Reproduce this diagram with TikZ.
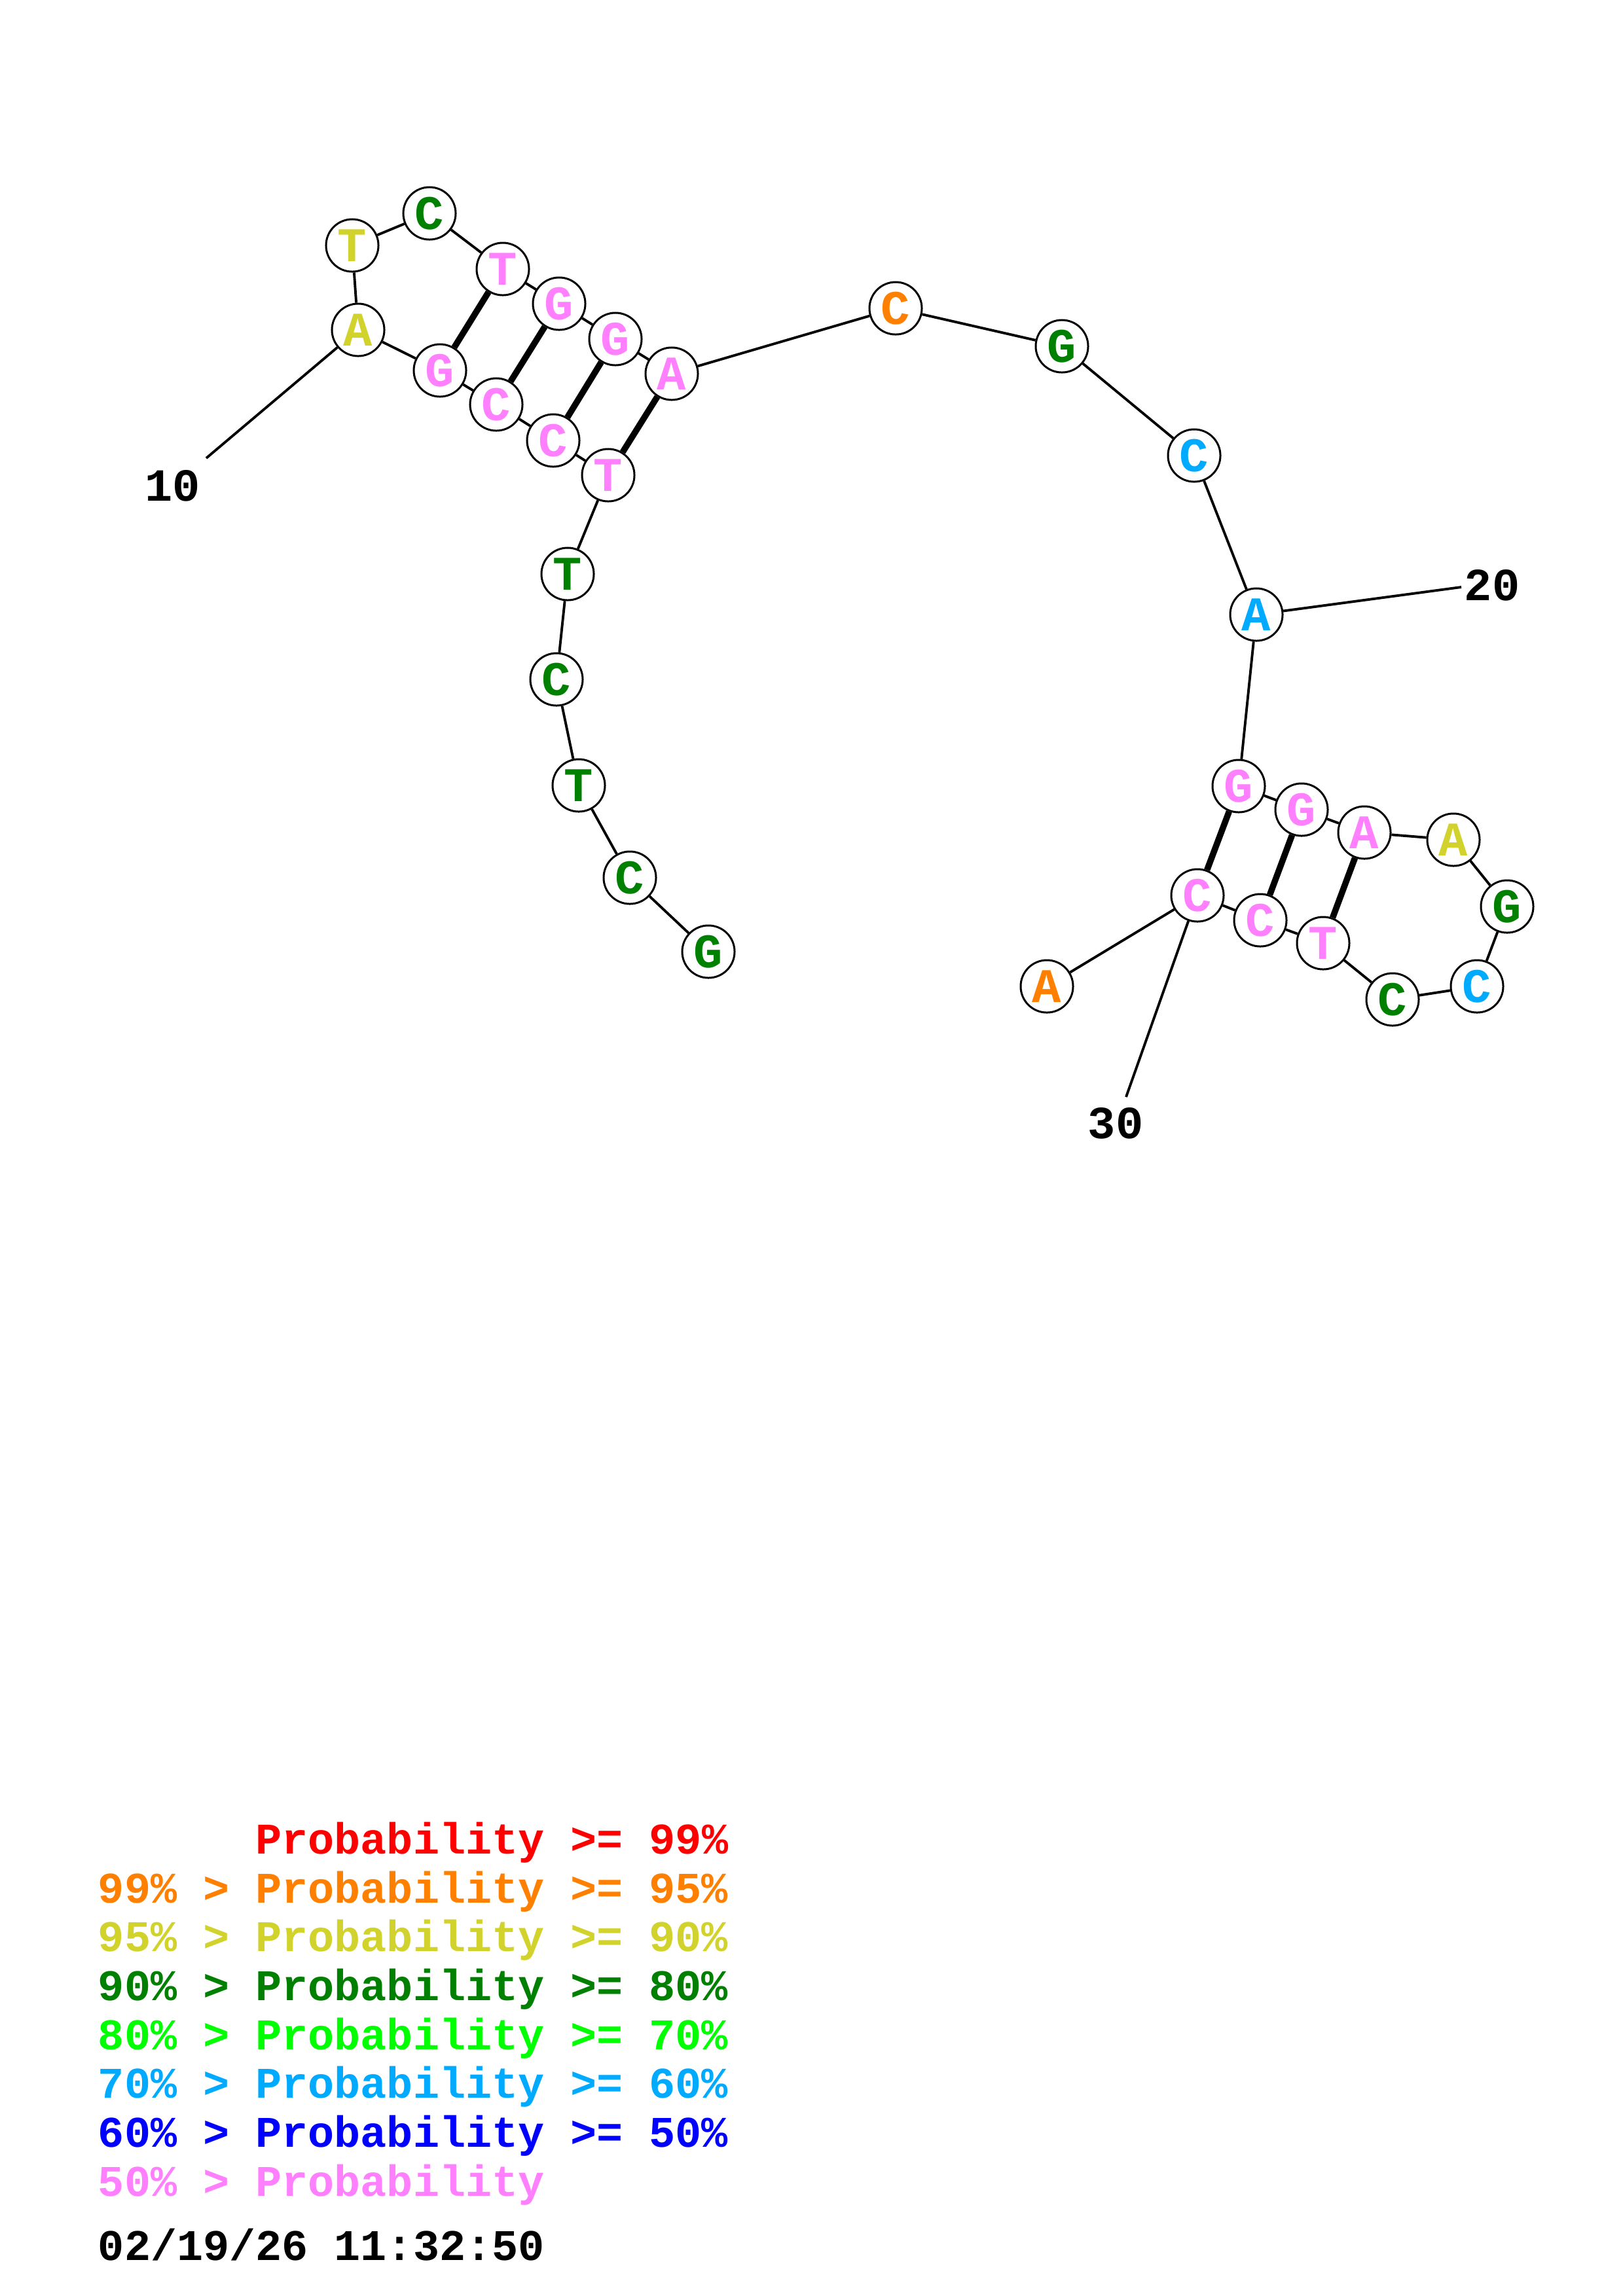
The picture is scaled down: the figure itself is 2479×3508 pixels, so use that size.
\documentclass[tikz,border=0pt]{standalone}
\usepackage{fontspec}
\setmonofont{Liberation Mono}
\definecolor{PrRed}{HTML}{FF0000}
\definecolor{PrOrange}{HTML}{FF8000}
\definecolor{PrYellow}{HTML}{D2D22D}
\definecolor{PrGreen}{HTML}{008000}
\definecolor{PrLime}{HTML}{00FF00}
\definecolor{PrSky}{HTML}{00AAFF}
\definecolor{PrBlue}{HTML}{0000FF}
\definecolor{PrPink}{HTML}{FF80FF}

\begin{document}
\begin{tikzpicture}[x=0.01cm,y=-0.01cm,line width=1.1pt,
  nt/.style={circle,draw=black,line width=0.85pt,minimum size=0.8cm,inner sep=0pt,text=#1,
    font=\fontsize{21}{21}\selectfont\ttfamily\bfseries},
  bp/.style={line width=2.7pt},
  num/.style={inner sep=0pt,font=\fontsize{20}{20}\selectfont\ttfamily\bfseries},
  lg/.style={anchor=base west,inner sep=0pt,font=\fontsize{19}{19}\selectfont\ttfamily\bfseries}]
\useasboundingbox (0,0) rectangle (2479,3508);
% bases 1-31
\node[nt=PrGreen] (n1) at (1082,1454) {G};
\node[nt=PrGreen] (n2) at (962,1341) {C};
\node[nt=PrGreen] (n3) at (884,1200) {T};
\node[nt=PrGreen] (n4) at (850,1038) {C};
\node[nt=PrGreen] (n5) at (867,877) {T};
\node[nt=PrPink] (n6) at (929,726) {T};
\node[nt=PrPink] (n7) at (845,673) {C};
\node[nt=PrPink] (n8) at (758,618) {C};
\node[nt=PrPink] (n9) at (672,566) {G};
\node[nt=PrYellow] (n10) at (547,504) {A};
\node[nt=PrYellow] (n11) at (538,375) {T};
\node[nt=PrGreen] (n12) at (656,326) {C};
\node[nt=PrPink] (n13) at (768,411) {T};
\node[nt=PrPink] (n14) at (854,464) {G};
\node[nt=PrPink] (n15) at (940,518) {G};
\node[nt=PrPink] (n16) at (1026,571) {A};
\node[nt=PrOrange] (n17) at (1368,471) {C};
\node[nt=PrGreen] (n18) at (1622,529) {G};
\node[nt=PrSky] (n19) at (1824,696) {C};
\node[nt=PrSky] (n20) at (1919,939) {A};
\node[nt=PrPink] (n21) at (1892,1201) {G};
\node[nt=PrPink] (n22) at (1988,1237) {G};
\node[nt=PrPink] (n23) at (2084,1272) {A};
\node[nt=PrYellow] (n24) at (2220,1283) {A};
\node[nt=PrGreen] (n25) at (2302,1385) {G};
\node[nt=PrSky] (n26) at (2256,1507) {C};
\node[nt=PrGreen] (n27) at (2127,1527) {C};
\node[nt=PrPink] (n28) at (2021,1441) {T};
\node[nt=PrPink] (n29) at (1925,1406) {C};
\node[nt=PrPink] (n30) at (1829,1368) {C};
\node[nt=PrOrange] (n31) at (1599,1507) {A};
% backbone
\draw (n1) -- (n2) -- (n3) -- (n4) -- (n5) -- (n6) -- (n7) -- (n8) -- (n9) -- (n10)
  -- (n11) -- (n12) -- (n13) -- (n14) -- (n15) -- (n16) -- (n17) -- (n18) -- (n19) -- (n20)
  -- (n21) -- (n22) -- (n23) -- (n24) -- (n25) -- (n26) -- (n27) -- (n28) -- (n29) -- (n30)
  -- (n31);
% pairs
\draw[bp] (n9) -- (n13);
\draw[bp] (n8) -- (n14);
\draw[bp] (n7) -- (n15);
\draw[bp] (n6) -- (n16);
\draw[bp] (n21) -- (n30);
\draw[bp] (n22) -- (n29);
\draw[bp] (n23) -- (n28);
% position marks
\node[num] (l10) at (264,742) {10};
\node[num] (l20) at (2279,894) {20};
\node[num] (l30) at (1704,1716) {30};
\coordinate (c10) at (315,700);
\coordinate (c20) at (2232,897);
\coordinate (c30) at (1720,1676);
\draw (n10) -- (c10);
\draw (n20) -- (c20);
\draw (n30) -- (c30);
% legend
\node[lg,text=PrRed] (p1) at (148,2832) {\phantom{99\%\ >\ }Probability >= 99\%};
\node[lg,text=PrOrange] (p2) at (148,2907) {99\% > Probability >= 95\%};
\node[lg,text=PrYellow] (p3) at (148,2981) {95\% > Probability >= 90\%};
\node[lg,text=PrGreen] (p4) at (148,3056) {90\% > Probability >= 80\%};
\node[lg,text=PrLime] (p5) at (148,3131) {80\% > Probability >= 70\%};
\node[lg,text=PrSky] (p6) at (148,3205) {70\% > Probability >= 60\%};
\node[lg,text=PrBlue] (p7) at (148,3280) {60\% > Probability >= 50\%};
\node[lg,text=PrPink] (p8) at (148,3355) {50\% > Probability};
\node[lg] (date) at (148,3453) {02/19/26 11:32:50};
\end{tikzpicture}
\end{document}
